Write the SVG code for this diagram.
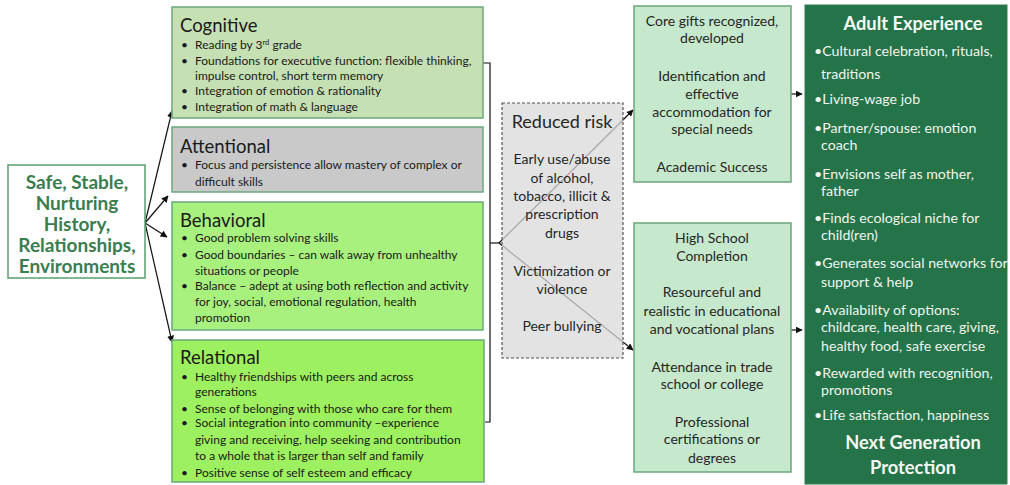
<svg xmlns="http://www.w3.org/2000/svg" width="1010" height="485" viewBox="0 0 1010 485">
<style>
text{font-family:Lato,"Open Sans","Liberation Sans",sans-serif;fill:#1a1a1a}
.box{stroke:#6aa77c;stroke-width:1.5}
.ttl{font-size:18.5px}
.bl{font-size:12px}
.mid{font-size:14px;text-anchor:middle;fill:#262626}
.ae{font-size:14.2px;fill:#eef5ee}
.aeh{font-size:18.3px;font-weight:bold;fill:#f4f8f4;text-anchor:middle}
.src{font-size:19px;font-weight:bold;fill:#3a7d4f;text-anchor:middle}
.ln{stroke:#111;stroke-width:1.2;fill:none}
</style>
<defs>
<marker id="ah" viewBox="0 0 10 10" refX="9" refY="5" markerWidth="7" markerHeight="7" orient="auto" markerUnits="userSpaceOnUse">
<path d="M0,0 L10,5 L0,10 z" fill="#111"/>
</marker>
</defs>

<g id="connectors">
<line class="ln" x1="145" y1="223" x2="172" y2="111" marker-end="url(#ah)"/>
<line class="ln" x1="145" y1="223" x2="168" y2="196" marker-end="url(#ah)"/>
<line class="ln" x1="145" y1="223" x2="167" y2="237" marker-end="url(#ah)"/>
<line class="ln" x1="145" y1="223" x2="172" y2="342" marker-end="url(#ah)"/>
<polyline class="ln" points="483,63 490,63 490,422 485,422"/>
<line class="ln" x1="490" y1="243" x2="499" y2="243"/>
<line class="ln" x1="499" y1="243" x2="633" y2="110" marker-end="url(#ah)"/>
<line class="ln" x1="499" y1="243" x2="633" y2="350" marker-end="url(#ah)"/>
<line class="ln" x1="791" y1="94" x2="802" y2="94" marker-end="url(#ah)"/>
<line class="ln" x1="791" y1="330" x2="802" y2="330" marker-end="url(#ah)"/>
</g>

<g id="source">
<rect x="8" y="165" width="137" height="113" fill="#fff" stroke="#5a9e6f" stroke-width="1.5"/>
<text class="src" x="77" y="189">Safe, Stable,</text>
<text class="src" x="77" y="210">Nurturing</text>
<text class="src" x="77" y="231">History,</text>
<text class="src" x="77" y="252">Relationships,</text>
<text class="src" x="77" y="273">Environments</text>
</g>

<g id="cognitive">
<rect class="box" x="172" y="7" width="311" height="111" fill="#c5e0b3"/>
<text class="ttl" x="180" y="32">Cognitive</text>
<text class="bl" x="181" y="49">•</text><text class="bl" x="195" y="49">Reading by 3<tspan font-size="7.5" dy="-4">rd</tspan><tspan dy="4"> grade</tspan></text>
<text class="bl" x="181" y="65">•</text><text class="bl" x="195" y="65">Foundations for executive function: flexible thinking,</text>
<text class="bl" x="195" y="80">impulse control, short term memory</text>
<text class="bl" x="181" y="95">•</text><text class="bl" x="195" y="95">Integration of emotion &amp; rationality</text>
<text class="bl" x="181" y="111">•</text><text class="bl" x="195" y="111">Integration of math &amp; language</text>
</g>

<g id="attentional">
<rect class="box" x="172" y="127" width="311" height="65" fill="#c9c9c9"/>
<text class="ttl" x="180" y="153">Attentional</text>
<text class="bl" x="181" y="169">•</text><text class="bl" x="195" y="169">Focus and persistence allow mastery of complex or</text>
<text class="bl" x="195" y="186">difficult skills</text>
</g>

<g id="behavioral">
<rect class="box" x="172" y="202" width="311" height="128" fill="#a8f17f"/>
<text class="ttl" x="180" y="227">Behavioral</text>
<text class="bl" x="181" y="242">•</text><text class="bl" x="195" y="242">Good problem solving skills</text>
<text class="bl" x="181" y="259">•</text><text class="bl" x="195" y="259">Good boundaries – can walk away from unhealthy</text>
<text class="bl" x="195" y="275">situations or people</text>
<text class="bl" x="181" y="290">•</text><text class="bl" x="195" y="290">Balance – adept at using both reflection and activity</text>
<text class="bl" x="195" y="306">for joy, social,  emotional regulation, health</text>
<text class="bl" x="195" y="322">promotion</text>
</g>

<g id="relational">
<rect class="box" x="172" y="340" width="312" height="142" fill="#9df05f"/>
<text class="ttl" x="180" y="364">Relational</text>
<text class="bl" x="181" y="381">•</text><text class="bl" x="195" y="381">Healthy friendships with peers and across</text>
<text class="bl" x="195" y="396">generations</text>
<text class="bl" x="181" y="413">•</text><text class="bl" x="195" y="413">Sense of belonging with those who care for them</text>
<text class="bl" x="181" y="427">•</text><text class="bl" x="195" y="427">Social integration into community –experience</text>
<text class="bl" x="195" y="444">giving and receiving, help seeking and contribution</text>
<text class="bl" x="195" y="460">to a whole that is larger than self and family</text>
<text class="bl" x="181" y="477">•</text><text class="bl" x="195" y="477">Positive sense of self esteem and efficacy</text>
</g>

<g id="reduced-risk">
<rect x="502" y="103" width="121" height="255" fill="#d9d9d9" fill-opacity="0.75" stroke="#555" stroke-width="1.2" stroke-dasharray="3,2"/>
<text class="mid" x="562" y="128" style="font-size:18px">Reduced risk</text>
<text class="mid" x="562" y="164">Early use/abuse</text>
<text class="mid" x="562" y="183">of alcohol,</text>
<text class="mid" x="562" y="201">tobacco, illicit &amp;</text>
<text class="mid" x="562" y="219">prescription</text>
<text class="mid" x="562" y="238">drugs</text>
<text class="mid" x="562" y="276">Victimization or</text>
<text class="mid" x="562" y="294">violence</text>
<text class="mid" x="562" y="331">Peer bullying</text>
</g>

<g id="core-gifts">
<rect class="box" x="634" y="6" width="157" height="176" fill="#c6e8cd"/>
<text class="mid" x="712" y="26">Core gifts recognized,</text>
<text class="mid" x="712" y="43">developed</text>
<text class="mid" x="712" y="81">Identification and</text>
<text class="mid" x="712" y="99">effective</text>
<text class="mid" x="712" y="117">accommodation for</text>
<text class="mid" x="712" y="134">special needs</text>
<text class="mid" x="712" y="172">Academic Success</text>
</g>

<g id="high-school">
<rect class="box" x="634" y="223" width="157" height="249" fill="#c6e8cd"/>
<text class="mid" x="712" y="243">High School</text>
<text class="mid" x="712" y="261">Completion</text>
<text class="mid" x="712" y="297">Resourceful and</text>
<text class="mid" x="712" y="316">realistic in educational</text>
<text class="mid" x="712" y="334">and vocational plans</text>
<text class="mid" x="712" y="372">Attendance in trade</text>
<text class="mid" x="712" y="389">school or college</text>
<text class="mid" x="712" y="427">Professional</text>
<text class="mid" x="712" y="444">certifications or</text>
<text class="mid" x="712" y="463">degrees</text>
</g>

<g id="adult-experience">
<rect x="805" y="5" width="202" height="479" fill="#257349" stroke="#2f7f52" stroke-width="1"/>
<text class="aeh" x="913" y="30">Adult Experience</text>
<text class="ae" x="814" y="56">•Cultural celebration, rituals,</text>
<text class="ae" x="821" y="79">traditions</text>
<text class="ae" x="814" y="104">•Living-wage job</text>
<text class="ae" x="814" y="133">•Partner/spouse: emotion</text>
<text class="ae" x="821" y="150">coach</text>
<text class="ae" x="814" y="179">•Envisions self as mother,</text>
<text class="ae" x="821" y="196">father</text>
<text class="ae" x="814" y="223">•Finds ecological niche for</text>
<text class="ae" x="821" y="240">child(ren)</text>
<text class="ae" x="814" y="268">•Generates social networks for</text>
<text class="ae" x="821" y="287">support &amp; help</text>
<text class="ae" x="814" y="315">•Availability of options:</text>
<text class="ae" x="821" y="332">childcare, health care, giving,</text>
<text class="ae" x="821" y="351">healthy food, safe exercise</text>
<text class="ae" x="814" y="378">•Rewarded with recognition,</text>
<text class="ae" x="821" y="395">promotions</text>
<text class="ae" x="814" y="420">•Life satisfaction, happiness</text>
<text class="aeh" x="913" y="449">Next Generation</text>
<text class="aeh" x="913" y="474">Protection</text>
</g>
</svg>
